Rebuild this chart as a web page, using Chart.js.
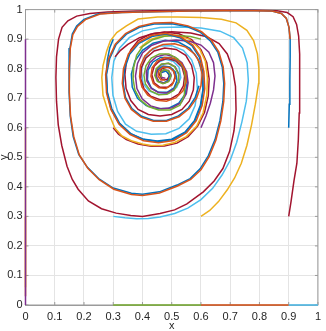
<!DOCTYPE html>
<html>
<head>
<meta charset="utf-8">
<script src="https://cdn.jsdelivr.net/npm/chart.js@4.4.0/dist/chart.umd.min.js"></script>
<style>
  html, body { margin: 0; padding: 0; background: #fff; }
  #wrap { width: 326px; height: 331px; }
</style>
</head>
<body>
<div id="wrap"><canvas id="chart" width="326" height="331"></canvas></div>
<script>
// axis ticks
const xTicks = [0, 0.1, 0.2, 0.3, 0.4, 0.5, 0.6, 0.7, 0.8, 0.9, 1];
const yTicks = [0, 0.1, 0.2, 0.3, 0.4, 0.5, 0.6, 0.7, 0.8, 0.9, 1];
const xTickLabels = ["0", "0.1", "0.2", "0.3", "0.4", "0.5", "0.6", "0.7", "0.8", "0.9", "1"];
const yTickLabels = ["0", "0.1", "0.2", "0.3", "0.4", "0.5", "0.6", "0.7", "0.8", "0.9", "1"];

// matlab default color order
const lineColors = ["#0072BD", "#D95319", "#EDB120", "#7E2F8E", "#77AC30", "#4DBEEE", "#A2142F"];

// trajectories, start points on the 0:0.3:0.9 grid, in plot order
const traj00 = [[0, 0], [0, 0]];
const traj01 = [[0, 0.3], [0, 0.2], [0, 0.1], [0, 0.03]];
const traj02 = [[0, 0.6], [0, 0.4], [0, 0.2], [0, 0.06]];
const traj03 = [[0, 0.9], [0, 0.7], [0, 0.5], [0, 0.3], [0, 0.1], [0, 0]];
const traj10 = [[0.3, 0], [0.45, 0], [0.6, 0]];
const traj11 = [
  [0.300,0.300],[0.340,0.295],[0.380,0.292],[0.420,0.293],[0.460,0.298],[0.510,0.310],[0.555,0.328],[0.600,0.357],
  [0.640,0.395],[0.672,0.440],[0.700,0.490],[0.722,0.550],[0.740,0.620],[0.755,0.690],[0.762,0.760],[0.758,0.820],
  [0.742,0.870],[0.712,0.905],[0.665,0.927],[0.600,0.938],[0.530,0.941],[0.460,0.939],[0.400,0.928],[0.355,0.905],
  [0.322,0.870],[0.302,0.825],[0.295,0.770],[0.299,0.710],[0.315,0.655],[0.342,0.612],[0.380,0.588],[0.430,0.578],
  [0.480,0.580],[0.525,0.598],[0.560,0.630],[0.580,0.675],[0.588,0.730],[0.584,0.785],[0.568,0.830],[0.540,0.862],
  [0.500,0.878],[0.460,0.877],[0.425,0.860],[0.404,0.830],[0.396,0.790],[0.402,0.750],[0.422,0.725],[0.455,0.713],
  [0.490,0.717],[0.517,0.737],[0.531,0.770],[0.525,0.805],[0.505,0.825],[0.478,0.832],[0.455,0.822]
];
const traj12 = [
  [0.300,0.600],[0.318,0.578],[0.345,0.560],[0.385,0.545],[0.430,0.537],[0.475,0.538],[0.518,0.548],[0.556,0.570],
  [0.588,0.605],[0.612,0.652],[0.625,0.708],[0.628,0.765],[0.620,0.820],[0.600,0.864],[0.568,0.898],[0.525,0.918],
  [0.475,0.924],[0.425,0.916],[0.385,0.895],[0.360,0.864],[0.345,0.825],[0.340,0.780],[0.344,0.733],[0.360,0.692],
  [0.385,0.662],[0.420,0.645],[0.460,0.640],[0.500,0.645],[0.535,0.662],[0.560,0.690],[0.574,0.728],[0.577,0.770],
  [0.568,0.811],[0.548,0.845],[0.515,0.865],[0.476,0.870],[0.440,0.860],[0.412,0.836],[0.396,0.803],[0.394,0.766],
  [0.405,0.732],[0.428,0.707],[0.460,0.695],[0.495,0.697],[0.524,0.714],[0.540,0.742],[0.544,0.775],[0.535,0.806],
  [0.514,0.826],[0.487,0.834],[0.460,0.828],[0.440,0.808],[0.432,0.780],[0.440,0.752],[0.460,0.737],[0.486,0.737],
  [0.505,0.752],[0.512,0.775],[0.504,0.797],[0.486,0.806],[0.466,0.800],[0.458,0.780],[0.467,0.764],[0.484,0.763],
  [0.492,0.776],[0.485,0.789]
];
const traj13 = [
  [0.300,0.900],[0.288,0.870],[0.280,0.830],[0.276,0.780],[0.279,0.720],[0.292,0.665],[0.318,0.617],[0.355,0.582],
  [0.400,0.562],[0.450,0.555],[0.500,0.561],[0.545,0.585],[0.578,0.625],[0.598,0.676],[0.607,0.732],[0.604,0.787],
  [0.589,0.834],[0.562,0.869],[0.523,0.890],[0.478,0.896],[0.436,0.886],[0.400,0.862],[0.374,0.826],[0.362,0.782],
  [0.365,0.738],[0.383,0.700],[0.413,0.675],[0.450,0.664],[0.490,0.666],[0.524,0.683],[0.546,0.714],[0.553,0.754],
  [0.546,0.793],[0.526,0.822],[0.496,0.838],[0.462,0.838],[0.435,0.822],[0.419,0.795],[0.417,0.762],[0.430,0.735],
  [0.455,0.720],[0.484,0.720],[0.508,0.735],[0.518,0.760],[0.513,0.788],[0.494,0.806],[0.470,0.809],[0.452,0.796],
  [0.446,0.775],[0.455,0.757],[0.473,0.752],[0.490,0.762],[0.492,0.780],[0.480,0.792],[0.466,0.787]
];
const traj20 = [[0.6, 0], [0.75, 0], [0.9, 0]];
const traj21 = [
  [0.600,0.300],[0.630,0.320],[0.660,0.350],[0.690,0.390],[0.715,0.430],[0.738,0.480],[0.757,0.540],[0.773,0.610],
  [0.786,0.680],[0.797,0.750],[0.798,0.800],[0.793,0.850],[0.780,0.895],[0.757,0.930],[0.720,0.955],[0.670,0.967],
  [0.600,0.973],[0.520,0.975],[0.452,0.975],[0.385,0.968],[0.345,0.945],[0.312,0.922],[0.290,0.894],[0.278,0.861],
  [0.265,0.810],[0.261,0.770],[0.265,0.710],[0.284,0.650],[0.306,0.598],[0.330,0.572],[0.362,0.556],[0.400,0.545],
  [0.430,0.540],[0.470,0.541],[0.510,0.550],[0.550,0.570],[0.585,0.605],[0.607,0.650],[0.620,0.710],[0.622,0.770],
  [0.615,0.825],[0.595,0.868],[0.560,0.900],[0.515,0.913],[0.470,0.912],[0.425,0.898],[0.390,0.870]
];
const traj22 = [
  [0.600,0.600],[0.617,0.640],[0.632,0.683],[0.643,0.728],[0.648,0.775],[0.643,0.820],[0.627,0.856],[0.600,0.880],
  [0.562,0.893],[0.515,0.897],[0.470,0.893],[0.430,0.878],[0.400,0.853],[0.383,0.818],[0.376,0.775],[0.381,0.733],
  [0.399,0.698],[0.428,0.674],[0.465,0.664],[0.503,0.668],[0.533,0.686],[0.550,0.715],[0.556,0.752],[0.551,0.790],
  [0.535,0.820],[0.510,0.840],[0.478,0.848],[0.447,0.840],[0.425,0.820],[0.413,0.790],[0.415,0.758],[0.430,0.733],
  [0.455,0.719],[0.484,0.718],[0.508,0.731],[0.522,0.754],[0.524,0.782],[0.512,0.806],[0.490,0.818],[0.466,0.815],
  [0.450,0.798],[0.446,0.775],[0.456,0.757],[0.475,0.751],[0.492,0.760],[0.498,0.778],[0.489,0.794],[0.472,0.796],
  [0.462,0.784],[0.466,0.770],[0.478,0.768]
];
const traj23 = [
  [0.600,0.900],[0.564,0.909],[0.520,0.912],[0.475,0.910],[0.435,0.898],[0.400,0.875],[0.380,0.845],[0.370,0.805],
  [0.368,0.765],[0.374,0.728],[0.392,0.695],[0.420,0.672],[0.455,0.660],[0.495,0.660],[0.528,0.676],[0.543,0.710],
  [0.547,0.770],[0.540,0.805],[0.520,0.833],[0.490,0.850],[0.458,0.850],[0.430,0.836],[0.412,0.810],[0.405,0.778],
  [0.410,0.748],[0.428,0.725],[0.455,0.712],[0.484,0.713],[0.508,0.727],[0.522,0.752],[0.523,0.782],[0.510,0.806],
  [0.488,0.818],[0.464,0.815],[0.447,0.800],[0.442,0.777],[0.451,0.757],[0.470,0.749],[0.489,0.756],[0.497,0.774],
  [0.490,0.792],[0.473,0.797],[0.461,0.786],[0.465,0.771]
];
const traj30 = [[0.9, 0], [0.96, 0], [0.99, 0], [1, 0]];
const traj31 = [
  [0.900,0.300],[0.908,0.350],[0.918,0.420],[0.928,0.480],[0.933,0.560],[0.936,0.650],[0.938,0.750],[0.937,0.850],
  [0.934,0.910],[0.927,0.950],[0.915,0.976],[0.895,0.990],[0.860,0.996],[0.780,0.998],[0.650,0.998],[0.500,0.997],
  [0.380,0.995],[0.280,0.992],[0.220,0.987],[0.175,0.978],[0.145,0.962],[0.125,0.940],[0.113,0.900],[0.106,0.840],
  [0.104,0.770],[0.106,0.690],[0.112,0.610],[0.124,0.540],[0.142,0.470],[0.160,0.425],[0.180,0.392],[0.215,0.352],
  [0.260,0.326],[0.310,0.311],[0.360,0.303],[0.400,0.300],[0.460,0.310],[0.510,0.322],[0.552,0.342],[0.608,0.383],
  [0.645,0.420],[0.675,0.462],[0.698,0.520],[0.713,0.590],[0.720,0.660],[0.718,0.740],[0.708,0.800],[0.690,0.850],
  [0.662,0.885],[0.620,0.908],[0.565,0.921],[0.500,0.925],[0.440,0.920],[0.390,0.905],[0.350,0.882],[0.325,0.862],
  [0.306,0.840]
];
const traj32 = [
  [0.900,0.600],[0.902,0.680],[0.904,0.760],[0.905,0.840],[0.905,0.900],[0.901,0.940],[0.892,0.970],[0.875,0.987],
  [0.843,0.995],[0.780,0.997],[0.680,0.996],[0.560,0.995],[0.440,0.993],[0.330,0.990],[0.250,0.986],[0.200,0.967],
  [0.175,0.945],[0.160,0.917],[0.152,0.870],[0.149,0.800],[0.149,0.720],[0.153,0.640],[0.163,0.570],[0.182,0.510],
  [0.211,0.467],[0.250,0.428],[0.300,0.396],[0.362,0.378],[0.400,0.375],[0.458,0.383],[0.518,0.406],[0.563,0.428],
  [0.597,0.461],[0.625,0.505],[0.648,0.560],[0.665,0.625],[0.675,0.690],[0.678,0.750],[0.673,0.805],[0.658,0.855],
  [0.632,0.894],[0.600,0.922],[0.555,0.942],[0.500,0.952],[0.440,0.951],[0.390,0.940],[0.345,0.917],[0.310,0.882],
  [0.288,0.835],[0.277,0.780],[0.280,0.720],[0.295,0.665],[0.322,0.615],[0.360,0.580],[0.405,0.560],[0.455,0.553],
  [0.505,0.560],[0.548,0.585],[0.580,0.625],[0.600,0.675],[0.608,0.730],[0.607,0.788],[0.595,0.838],[0.569,0.878],
  [0.528,0.905],[0.480,0.917],[0.432,0.909],[0.388,0.886],[0.356,0.849],[0.339,0.800],[0.334,0.750],[0.342,0.703],
  [0.364,0.665],[0.397,0.639],[0.438,0.625],[0.482,0.625],[0.523,0.640],[0.557,0.667],[0.580,0.702],[0.593,0.742]
];
const traj33 = [
  [0.905,0.900],[0.901,0.940],[0.892,0.970],[0.875,0.987],[0.843,0.995],[0.780,0.996],[0.680,0.996],[0.560,0.995],
  [0.440,0.993],[0.330,0.990],[0.255,0.985],[0.205,0.966],[0.178,0.943],[0.162,0.915],[0.153,0.868],[0.150,0.800],
  [0.150,0.720],[0.154,0.640],[0.165,0.570],[0.184,0.508],[0.213,0.463],[0.252,0.424],[0.302,0.392],[0.362,0.374],
  [0.400,0.371],[0.458,0.379],[0.518,0.402],[0.565,0.425],[0.600,0.458],[0.628,0.502],[0.651,0.558],[0.668,0.623],
  [0.678,0.690],[0.681,0.750],[0.676,0.806],[0.661,0.857],[0.635,0.897],[0.602,0.925],[0.556,0.945],[0.500,0.956],
  [0.440,0.955],[0.388,0.943],[0.342,0.919],[0.307,0.883],[0.285,0.835],[0.274,0.780],[0.277,0.718],[0.292,0.662],
  [0.320,0.612],[0.358,0.577],[0.404,0.556],[0.455,0.549],[0.507,0.557],[0.551,0.583],[0.584,0.624],[0.604,0.675],
  [0.613,0.732],[0.610,0.790],[0.598,0.840],[0.572,0.880],[0.530,0.908],[0.480,0.920],[0.430,0.912],[0.385,0.888],
  [0.352,0.850],[0.335,0.800],[0.331,0.750],[0.340,0.700],[0.362,0.662],[0.395,0.636],[0.437,0.622],[0.482,0.622],
  [0.525,0.637],[0.560,0.665],[0.585,0.700],[0.600,0.742],[0.604,0.780],[0.597,0.818],[0.578,0.850],[0.548,0.873],
  [0.510,0.884],[0.470,0.882],[0.435,0.868],[0.408,0.843],[0.393,0.810],[0.390,0.773],[0.398,0.738],[0.418,0.710],
  [0.448,0.693],[0.482,0.690],[0.514,0.701],[0.538,0.724],[0.550,0.755],[0.548,0.790],[0.533,0.818],[0.507,0.835],
  [0.476,0.838],[0.450,0.826],[0.433,0.803],[0.429,0.775],[0.437,0.750],[0.456,0.735],[0.480,0.733],[0.501,0.745],
  [0.512,0.767],[0.508,0.790],[0.492,0.804],[0.471,0.806],[0.456,0.793],[0.453,0.775],[0.463,0.762],[0.478,0.762]
];

const trajectories = [
  traj00, traj01, traj02, traj03,
  traj10, traj11, traj12, traj13,
  traj20, traj21, traj22, traj23,
  traj30, traj31, traj32, traj33
];

// chart.js paints dataset 0 last, so hand them over back to front
const datasets = trajectories.map((pts, k) => ({
  data: pts.map(p => ({ x: p[0], y: p[1] })),
  borderColor: lineColors[k % lineColors.length],
  borderWidth: 1.5,
  showLine: true,
  pointRadius: 0,
  fill: false,
  tension: 0,
  clip: false
})).reverse();

const boxColor = "#9b9b9b";
const gridColor = "#e4e4e4";
const textColor = "#262626";

// box round the axes and inward tick marks
const boxPlugin = {
  id: "box",
  beforeDatasetsDraw(chart) {
    const { ctx, chartArea: a, scales } = chart;
    ctx.save();
    ctx.strokeStyle = boxColor;
    ctx.lineWidth = 1;
    ctx.strokeRect(a.left, a.top, a.right - a.left, a.bottom - a.top);
    ctx.beginPath();
    xTicks.forEach(v => {
      const px = scales.x.getPixelForValue(v);
      ctx.moveTo(px, a.bottom); ctx.lineTo(px, a.bottom - 3);
      ctx.moveTo(px, a.top); ctx.lineTo(px, a.top + 3);
    });
    yTicks.forEach(v => {
      const py = scales.y.getPixelForValue(v);
      ctx.moveTo(a.left, py); ctx.lineTo(a.left + 3, py);
      ctx.moveTo(a.right, py); ctx.lineTo(a.right - 3, py);
    });
    ctx.stroke();
    ctx.restore();
  }
};

new Chart(document.getElementById("chart"), {
  type: "scatter",
  data: { datasets },
  options: {
    responsive: false,
    animation: false,
    devicePixelRatio: 1,
    layout: { padding: { left: 0, right: 3, top: 5, bottom: 0 } },
    plugins: { legend: { display: false }, tooltip: { enabled: false } },
    scales: {
      x: {
        type: "linear", min: 0, max: 1,
        afterBuildTicks: axis => { axis.ticks = xTicks.map(v => ({ value: v })); },
        afterFit: axis => { axis.height = 26; },
        ticks: {
          color: textColor, padding: 5, maxRotation: 0,
          font: { family: "Liberation Sans", size: 11 },
          callback: (v, i) => xTickLabels[i]
        },
        grid: { color: gridColor, drawTicks: false },
        border: { color: boxColor },
        title: { display: true, text: "x", color: textColor, padding: 0,
                 font: { family: "Liberation Sans", size: 11, lineHeight: 0.9 } }
      },
      y: {
        type: "linear", min: 0, max: 1,
        afterBuildTicks: axis => { axis.ticks = yTicks.map(v => ({ value: v })); },
        afterFit: axis => { axis.width = 25.5; },
        ticks: {
          color: textColor, padding: 3,
          font: { family: "Liberation Sans", size: 11 },
          callback: (v, i) => yTickLabels[i]
        },
        grid: { color: gridColor, drawTicks: false },
        border: { color: boxColor },
        title: { display: true, text: "y", color: textColor, padding: 0,
                 font: { family: "Liberation Sans", size: 11, lineHeight: 0.7 } }
      }
    }
  },
  plugins: [boxPlugin]
});
</script>
</body>
</html>
